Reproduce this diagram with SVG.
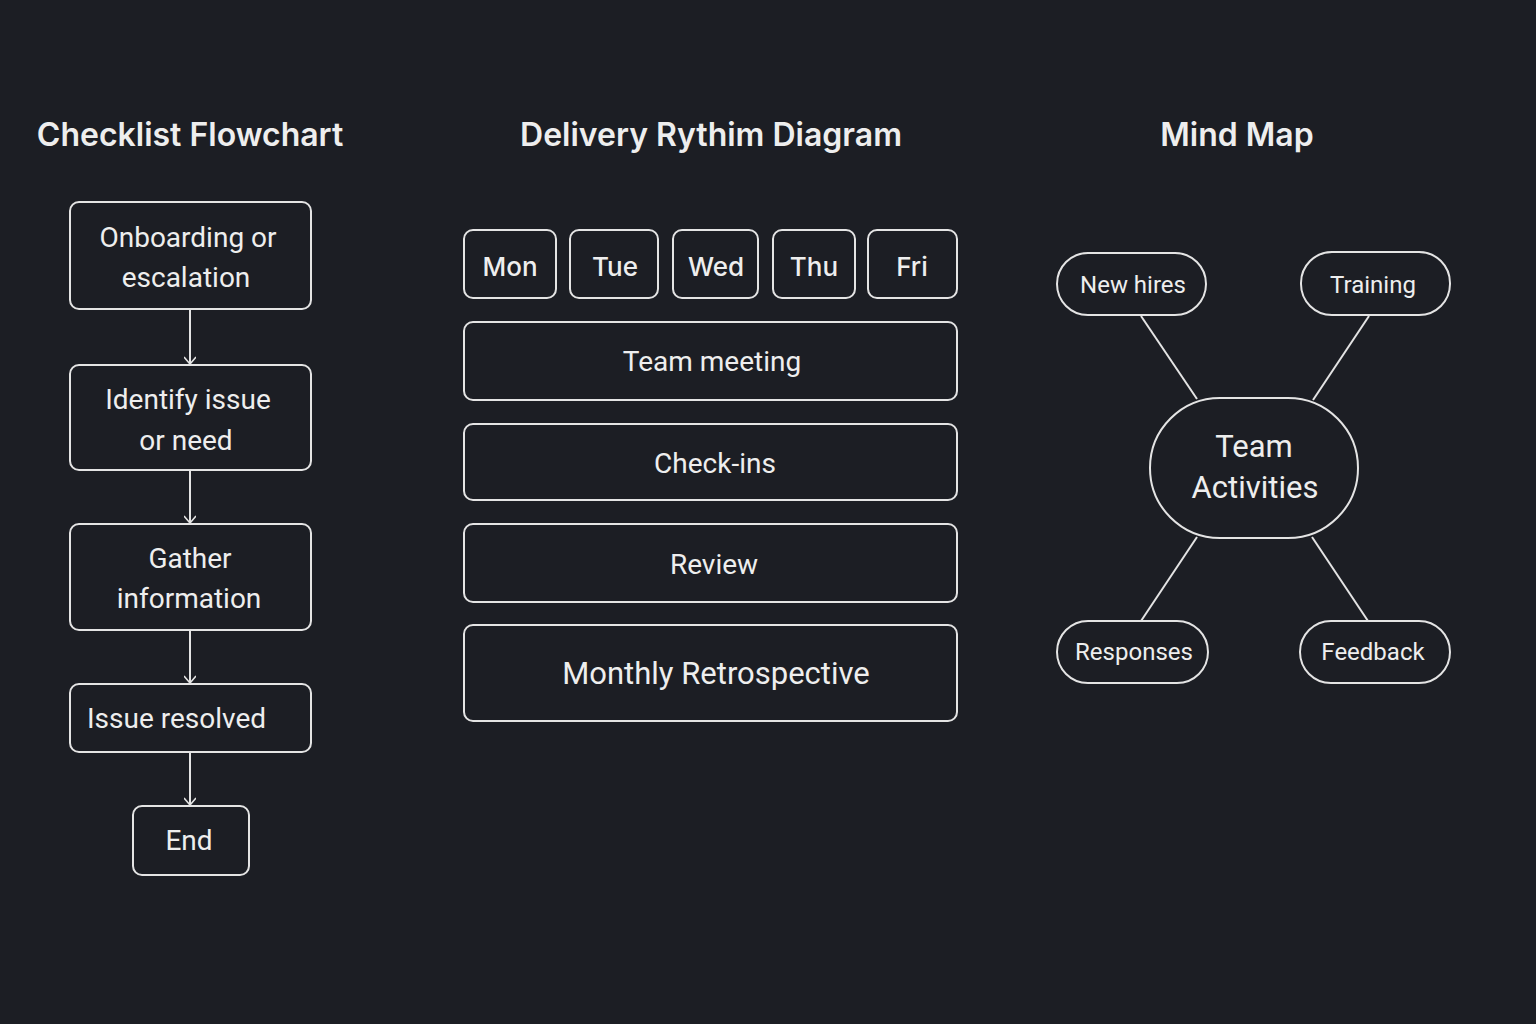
<svg xmlns="http://www.w3.org/2000/svg" width="1536" height="1024" viewBox="0 0 1536 1024">
<defs>
<style>
.bg{fill:#1c1e24}
.box{fill:#1c1e24;stroke:#e4e4e4;stroke-width:2}
.t{font-family:Roboto,"Noto Sans","Liberation Sans",sans-serif;fill:#eeeeee;text-anchor:middle;dominant-baseline:central}
.title{font-family:Inter,"Noto Sans","Liberation Sans",sans-serif;font-size:32px;font-weight:600}
.l28{font-size:28px}
.day{font-family:Inter,"Noto Sans","Liberation Sans",sans-serif;font-size:26px;font-weight:500}
.mm{font-size:24px}
.conn{stroke:#e4e4e4;stroke-width:2;fill:none}
</style>
<marker id="arr" viewBox="0 0 12 12" refX="11" refY="6" markerWidth="12" markerHeight="12" markerUnits="userSpaceOnUse" orient="auto">
<path d="M4,0 L11,6 L4,12" fill="none" stroke="#e4e4e4" stroke-width="1.6"/>
</marker>
</defs>
<rect class="bg" x="0" y="0" width="1536" height="1024"/>
<text class="t title" x="190" y="134">Checklist Flowchart</text>
<text class="t title" x="711" y="134">Delivery Rythim Diagram</text>
<text class="t title" x="1237" y="134">Mind Map</text>

<g id="connectors">
<line class="conn" x1="190" y1="310" x2="190" y2="364" marker-end="url(#arr)"/>
<line class="conn" x1="190" y1="471" x2="190" y2="523" marker-end="url(#arr)"/>
<line class="conn" x1="190" y1="631" x2="190" y2="683" marker-end="url(#arr)"/>
<line class="conn" x1="190" y1="753" x2="190" y2="805" marker-end="url(#arr)"/>
<line class="conn" x1="1141" y1="316" x2="1197" y2="399"/>
<line class="conn" x1="1369" y1="316" x2="1313" y2="400"/>
<line class="conn" x1="1141" y1="621" x2="1197" y2="537"/>
<line class="conn" x1="1368" y1="621" x2="1312" y2="537"/>
</g>

<g id="onboarding"><rect class="box" x="70" y="202" width="241" height="107" rx="9"/>
<text class="t l28" x="188" y="237">Onboarding or</text><text class="t l28" x="186" y="277">escalation</text></g>
<g id="identify"><rect class="box" x="70" y="365" width="241" height="105" rx="9"/>
<text class="t l28" x="188" y="399">Identify issue</text><text class="t l28" x="186" y="440">or need</text></g>
<g id="gather"><rect class="box" x="70" y="524" width="241" height="106" rx="9"/>
<text class="t l28" x="190" y="558">Gather</text><text class="t l28" x="189" y="598">information</text></g>
<g id="resolved"><rect class="box" x="70" y="684" width="241" height="68" rx="9"/>
<text class="t l28" x="87" y="718" style="text-anchor:start">Issue resolved</text></g>
<g id="end"><rect class="box" x="133" y="806" width="116" height="69" rx="9"/>
<text class="t l28" x="189" y="840">End</text></g>

<g id="mon"><rect class="box" x="464" y="230" width="92" height="68" rx="9"/><text class="t day" x="510" y="266">Mon</text></g>
<g id="tue"><rect class="box" x="570" y="230" width="88" height="68" rx="9"/><text class="t day" x="615" y="266">Tue</text></g>
<g id="wed"><rect class="box" x="673" y="230" width="85" height="68" rx="9"/><text class="t day" x="716" y="266">Wed</text></g>
<g id="thu"><rect class="box" x="773" y="230" width="82" height="68" rx="9"/><text class="t day" x="814" y="266">Thu</text></g>
<g id="fri"><rect class="box" x="868" y="230" width="89" height="68" rx="9"/><text class="t day" x="912" y="266">Fri</text></g>
<g id="team-meeting"><rect class="box" x="464" y="322" width="493" height="78" rx="9"/><text class="t l28" x="712" y="361">Team meeting</text></g>
<g id="check-ins"><rect class="box" x="464" y="424" width="493" height="76" rx="9"/><text class="t l28" x="715" y="463">Check-ins</text></g>
<g id="review"><rect class="box" x="464" y="524" width="493" height="78" rx="9"/><text class="t l28" x="714" y="564">Review</text></g>
<g id="retro"><rect class="box" x="464" y="625" width="493" height="96" rx="9"/><text class="t" style="font-size:31px" x="716" y="673">Monthly Retrospective</text></g>

<g id="team-activities"><rect class="box" x="1150" y="398" width="208" height="140" rx="70"/>
<text class="t" style="font-size:31px" x="1254" y="446">Team</text><text class="t" style="font-size:31px" x="1255" y="487">Activities</text></g>
<g id="new-hires"><rect class="box" x="1057" y="253" width="149" height="62" rx="31"/><text class="t mm" x="1133" y="285">New hires</text></g>
<g id="training"><rect class="box" x="1301" y="252" width="149" height="63" rx="31"/><text class="t mm" x="1373" y="285">Training</text></g>
<g id="responses"><rect class="box" x="1057" y="621" width="151" height="62" rx="31"/><text class="t mm" x="1134" y="652">Responses</text></g>
<g id="feedback"><rect class="box" x="1300" y="621" width="150" height="62" rx="31"/><text class="t mm" x="1373" y="652">Feedback</text></g>
</svg>
